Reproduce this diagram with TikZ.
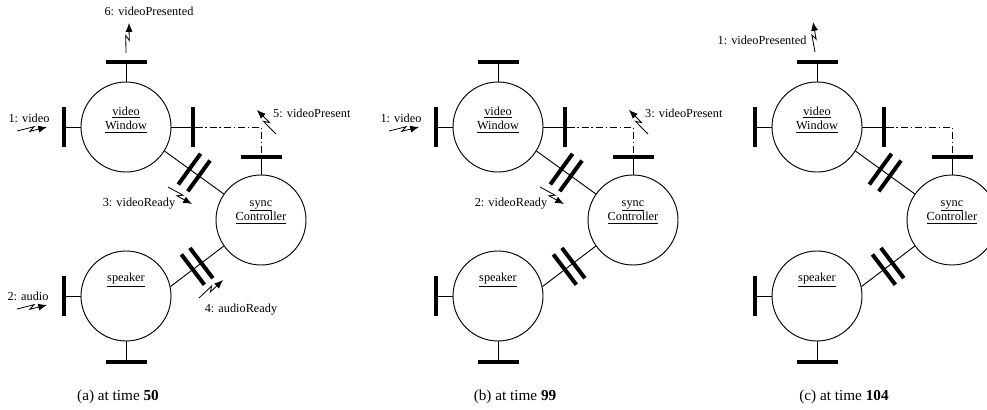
\documentclass[tikz,border=0pt]{standalone}
\usepackage{fontspec}
\setmainfont{Liberation Serif}
\usepackage{tikz}
\usetikzlibrary{positioning,calc,arrows.meta}

\begin{document}
\begin{tikzpicture}[x=0.3mm,y=0.3mm,
	capsule/.style={circle,draw,line width=0.8pt,minimum size=27mm,inner sep=0pt},
	hport/.style={fill,inner sep=0pt,outer sep=0pt,minimum width=12.3mm,minimum height=1.2mm},
	vport/.style={fill,inner sep=0pt,outer sep=0pt,minimum width=1.2mm,minimum height=12mm},
	cut/.style={fill,inner sep=0pt,outer sep=0pt,minimum width=1.2mm,minimum height=11.4mm,sloped},
	wire/.style={line width=0.8pt},
	dashdot/.style={line width=0.7pt,dash pattern=on 6pt off 2.5pt on 1pt off 2.5pt},
	bolt/.style={line width=0.7pt,-{Latex[length=7.5pt,width=6pt]},
		to path={-- ($(\tikztostart)!0.58!(\tikztotarget)!0.6mm!90:(\tikztotarget)$)
			-- ($(\tikztostart)!0.42!(\tikztotarget)!0.6mm!-90:(\tikztotarget)$)
			-- (\tikztotarget)}},
	tag/.style={font=\fontsize{10.5}{12.5}\selectfont,align=center,inner sep=0pt},
	msg/.style={font=\fontsize{10.5}{12.5}\selectfont,inner sep=0pt,text height=1.6ex,text depth=0.25ex},
	caption/.style={font=\fontsize{13}{15}\selectfont,inner sep=0pt}]
	\useasboundingbox (0,0) rectangle (987,409);
	
	% Draw the three capsules of every snapshot
	\foreach \p/\dx in {A/0,B/372,C/691}{
		\node[capsule] (vw\p) at (126+\dx,282) {};
		\node[capsule] (sc\p) at (261+\dx,189) {};
		\node[capsule] (sp\p) at (126+\dx,113) {};
		\node[tag] (vwname\p) at ([yshift=2.2mm]vw\p.center) {\underline{video}\\\underline{Window}};
		\node[tag] (scname\p) at ([yshift=2.4mm]sc\p.center) {\underline{sync}\\\underline{Controller}};
		\node[tag] (spname\p) at ([yshift=4.8mm]sp\p.center) {\underline{speaker}};
		
		% Ports
		\node[hport,above=5.4mm of vw\p] (vwtop\p) {};
		\node[vport,left=4.3mm of vw\p] (vwleft\p) {};
		\node[vport,right=6mm of vw\p] (vwright\p) {};
		\node[hport,above=4.8mm of sc\p] (sctop\p) {};
		\node[vport,left=4.3mm of sp\p] (spleft\p) {};
		\node[hport,below=5.7mm of sp\p] (spbottom\p) {};
		\draw[wire] (vw\p) -- (vwtop\p);
		\draw[wire] (vw\p) -- (vwleft\p);
		\draw[wire] (vw\p) -- (vwright\p);
		\draw[wire] (sc\p) -- (sctop\p);
		\draw[wire] (sp\p) -- (spleft\p);
		\draw[wire] (sp\p) -- (spbottom\p);
		
		% Bindings between the capsules
		\draw[wire] (vw\p.-32) -- (sc\p.145)
			node[cut,pos=0.42] (vwcut\p) {} node[cut,pos=0.58] (vwcutb\p) {};
		\draw[wire] (sp\p.12) -- (sc\p.215)
			node[cut,pos=0.42] (spcut\p) {} node[cut,pos=0.58] (spcutb\p) {};
		\draw[dashdot] (vwright\p) -| (sctop\p);
	}
	
	% Messages at time 50
	\coordinate (a1s) at (17,278); \coordinate (a1e) at (47,282);
	\coordinate (a2s) at (17,100); \coordinate (a2e) at (47,104);
	\coordinate (a3s) at (168,222); \coordinate (a3e) at (192,205);
	\coordinate (a4s) at (199,111); \coordinate (a4e) at (223,129);
	\coordinate (a5s) at (276,275); \coordinate (a5e) at (257,299);
	\coordinate (a6s) at (126,356); \coordinate (a6e) at (129,386);
	\draw[bolt] (a1s) to (a1e);
	\draw[bolt] (a2s) to (a2e);
	\draw[bolt] (a3s) to (a3e);
	\draw[bolt] (a4s) to (a4e);
	\draw[bolt] (a5s) to (a5e);
	\draw[bolt] (a6s) to (a6e);
	\node[msg] (a1) at (29,290) {1: video};
	\node[msg] (a2) at (28,112) {2: audio};
	\node[msg] (a3) at (139,206) {3: videoReady};
	\node[msg] (a4) at (241,100) {4: audioReady};
	\node[msg,anchor=west] (a5) at (273,295) {5: videoPresent};
	\node[msg] (a6) at (149,397) {6: videoPresented};
	
	% Messages at time 99
	\coordinate (b1s) at (389,278); \coordinate (b1e) at (419,282);
	\coordinate (b2s) at (540,222); \coordinate (b2e) at (564,205);
	\coordinate (b3s) at (648,275); \coordinate (b3e) at (629,299);
	\draw[bolt] (b1s) to (b1e);
	\draw[bolt] (b2s) to (b2e);
	\draw[bolt] (b3s) to (b3e);
	\node[msg] (b1) at (401,290) {1: video};
	\node[msg] (b2) at (511,206) {2: videoReady};
	\node[msg,anchor=west] (b3) at (645,295) {3: videoPresent};
	
	% Messages at time 104
	\coordinate (c1s) at (815,357); \coordinate (c1e) at (813,387);
	\draw[bolt] (c1s) to (c1e);
	\node[msg] (c1) at (762,368) {1: videoPresented};
	
	% Captions
	\node[caption] (capA) at (118,12) {(a) at time \textbf{50}};
	\node[caption] (capB) at (515,12) {(b) at time \textbf{99}};
	\node[caption] (capC) at (844,12) {(c) at time \textbf{104}};
\end{tikzpicture}
\end{document}
